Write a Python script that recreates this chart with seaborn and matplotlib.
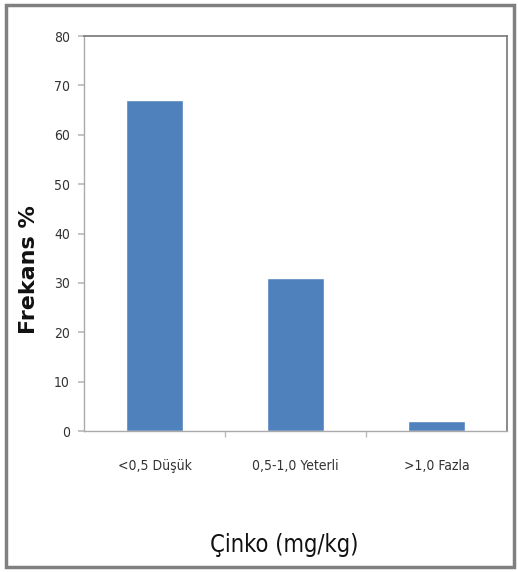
import matplotlib
matplotlib.use("Agg")
import matplotlib.pyplot as plt
import seaborn as sns
import pandas as pd
from matplotlib.patches import Rectangle
from matplotlib.ticker import FixedLocator

categories = ["<0,5 Düşük", "0,5-1,0 Yeterli", ">1,0 Fazla"]
values = [67, 31, 2]
yticks = [0, 10, 20, 30, 40, 50, 60, 70, 80]

sns.set_theme(style="white")
plt.rcParams["font.family"] = ["DejaVu Sans"]
plt.rcParams["font.stretch"] = "condensed"

df = pd.DataFrame({"cat": categories, "val": values})

fig = plt.figure(figsize=(5.18, 5.72), dpi=100)
ax = fig.add_axes([0.162, 0.2465, 0.817, 0.6905])

sns.barplot(data=df, x="cat", y="val", color="#4F81BD", saturation=1,
            width=0.4, ax=ax)

ax.set_ylim(0, 80)
ax.set_xlim(-0.5, 2.5)
ax.set_yticks(yticks)
ax.set_yticklabels([str(t) for t in yticks], fontsize=10, color="#333333",
                   stretch="condensed")
ax.set_xticks(range(len(categories)))
ax.set_xticklabels(categories, fontsize=10, color="#333333", stretch="condensed")
ax.tick_params(axis="x", which="major", length=0, pad=20)
ax.xaxis.set_minor_locator(FixedLocator([0.5, 1.5]))
ax.tick_params(axis="x", which="minor", length=4, color="#bbbbbb", direction="out", bottom=True)
ax.tick_params(axis="y", length=4, color="#bbbbbb", direction="out", left=True, pad=6)

for side in ["top", "right"]:
    ax.spines[side].set_color("#777777")
    ax.spines[side].set_linewidth(1.2)
for side in ["left", "bottom"]:
    ax.spines[side].set_color("#aaaaaa")
    ax.spines[side].set_linewidth(1.0)

ax.set_xlabel("Çinko (mg/kg)", fontsize=17, color="#111111",
              stretch="condensed", fontweight="medium", va="center")
ax.xaxis.set_label_coords(0.473, -0.289)
ax.set_ylabel("Frekans %", fontsize=16, fontweight="bold", color="#111111",
              stretch="normal", va="center")
ax.yaxis.set_label_coords(-0.13, 0.41)

# outer frame around the whole chart
fig.patches.append(Rectangle((0.011, 0.009), 0.982, 0.982, transform=fig.transFigure,
                             fill=False, edgecolor="#808080", linewidth=2.5))

fig.savefig("out.png", dpi=100)
